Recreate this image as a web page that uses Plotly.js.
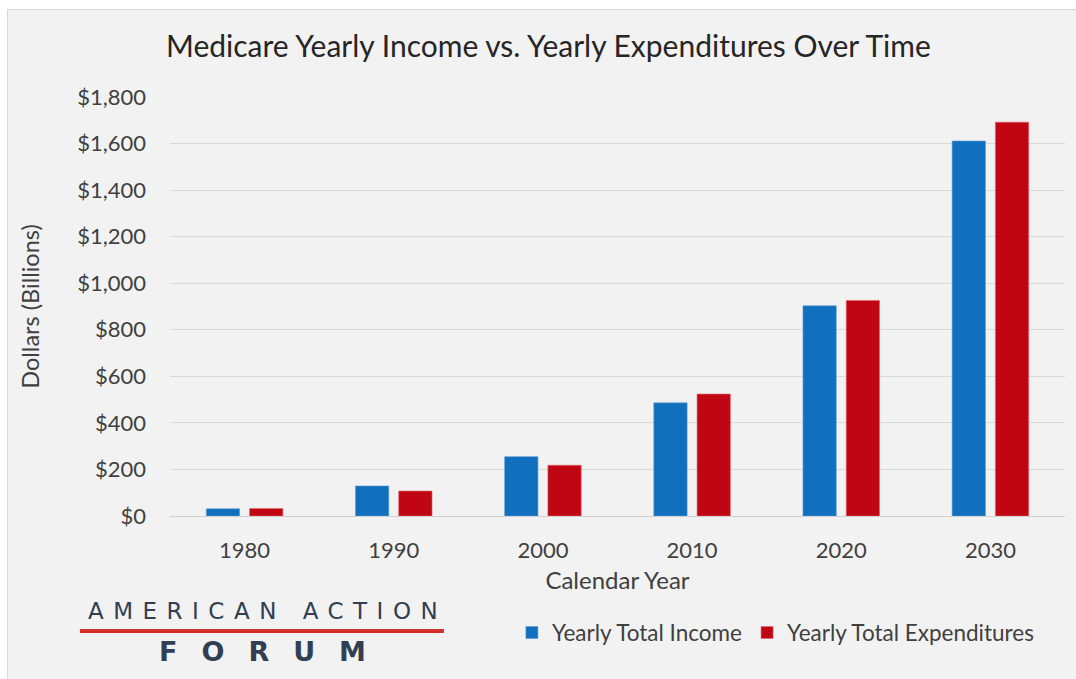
<!DOCTYPE html>
<html>
<head>
<meta charset="utf-8">
<script src="https://cdn.plot.ly/plotly-3.0.1.min.js"></script>
<style>
  html, body { margin:0; padding:0; background:#ffffff; width:1076px; height:679px; overflow:hidden; }
  #frame { position:absolute; left:7px; top:9px; width:1069px; height:670px; border-top:1px solid #d9d9d9; border-left:1px solid #d9d9d9; background:#f2f2f2; }
  #chart { position:absolute; left:0; top:0; width:1068px; height:669px; }
</style>
</head>
<body>
<div id="frame"><div id="chart"></div></div>
<script>
const years = ['1980', '1990', '2000', '2010', '2020', '2030'];
const income = [31, 129, 255, 486, 903, 1611];
const expenditures = [32, 107, 218, 524, 926, 1692];
const yTickVals = [0, 200, 400, 600, 800, 1000, 1200, 1400, 1600, 1800];
const yTickText = ['$0', '$200', '$400', '$600', '$800', '$1,000', '$1,200', '$1,400', '$1,600', '$1,800'];
const seriesNames = ['Yearly Total Income', 'Yearly Total Expenditures'];

const FONT = 'Lato, "Open Sans", sans-serif';
const TXT = '#404040';

const traces = [
  { type:'bar', name:seriesNames[0], x:years, y:income,
    marker:{ color:'#1070bd', line:{ color:'#5b9bd5', width:0.6 } }, hoverinfo:'x+y' },
  { type:'bar', name:seriesNames[1], x:years, y:expenditures,
    marker:{ color:'#c00613', line:{ color:'#e06666', width:0.6 } }, hoverinfo:'x+y' }
];

const layout = {
  width:1068, height:669,
  paper_bgcolor:'#f2f2f2', plot_bgcolor:'#f2f2f2',
  margin:{ l:162, r:11, t:87, b:163 },
  font:{ family:FONT, color:TXT },
  title:{ text:'Medicare Yearly Income vs. Yearly Expenditures Over Time',
          font:{ family:FONT, size:30, color:'#262626' },
          x:0.506, xanchor:'center', y:0.945, yanchor:'middle' },
  barmode:'group', bargap:0.42, bargroupgap:0.23,
  xaxis:{ type:'category', showgrid:false, zeroline:false, showline:false, ticks:'',
          tickfont:{ family:FONT, size:22, color:TXT }, ticklabelstandoff:19,
          title:{ text:'Calendar Year', font:{ family:FONT, size:24, color:TXT }, standoff:10 } },
  yaxis:{ range:[0, 1800], tickvals:yTickVals, ticktext:yTickText,
          showgrid:true, gridcolor:'#d9d9d9', gridwidth:1,
          zeroline:true, zerolinecolor:'#d0d0d0', zerolinewidth:1,
          showline:false, ticks:'', ticklabelstandoff:23,
          tickfont:{ family:FONT, size:22, color:TXT },
          title:{ text:'Dollars (Billions)', font:{ family:FONT, size:23.5, color:TXT }, standoff:30 } },
  showlegend:true,
  legend:{ orientation:'h', x:0.382, xanchor:'left', y:-0.279, yanchor:'middle',
           font:{ family:FONT, size:22.5, color:TXT }, bgcolor:'rgba(0,0,0,0)', itemwidth:30,
           traceorder:'normal' },
  shapes:[
    { type:'line', xref:'paper', yref:'paper', x0:-0.1006, x1:0.3061, y0:-0.2745, y1:-0.2745,
      line:{ color:'#d0312d', width:4 } }
  ],
  annotations:[
    { xref:'paper', yref:'paper', x:0.1084, y:-0.2267, xanchor:'center', yanchor:'middle', showarrow:false,
      text:'<span style="letter-spacing:9.5px">AMERICAN ACTION</span>',
      font:{ family:'"DejaVu Sans", sans-serif', size:23, color:'#323e52' } },
    { xref:'paper', yref:'paper', x:0.1173, y:-0.3222, xanchor:'center', yanchor:'middle', showarrow:false,
      text:'<b><span style="letter-spacing:24px">FORUM</span></b>',
      font:{ family:'"DejaVu Sans", sans-serif', size:27, color:'#323e52' } }
  ]
};

Plotly.newPlot('chart', traces, layout, { displayModeBar:false, staticPlot:true });
</script>
</body>
</html>
